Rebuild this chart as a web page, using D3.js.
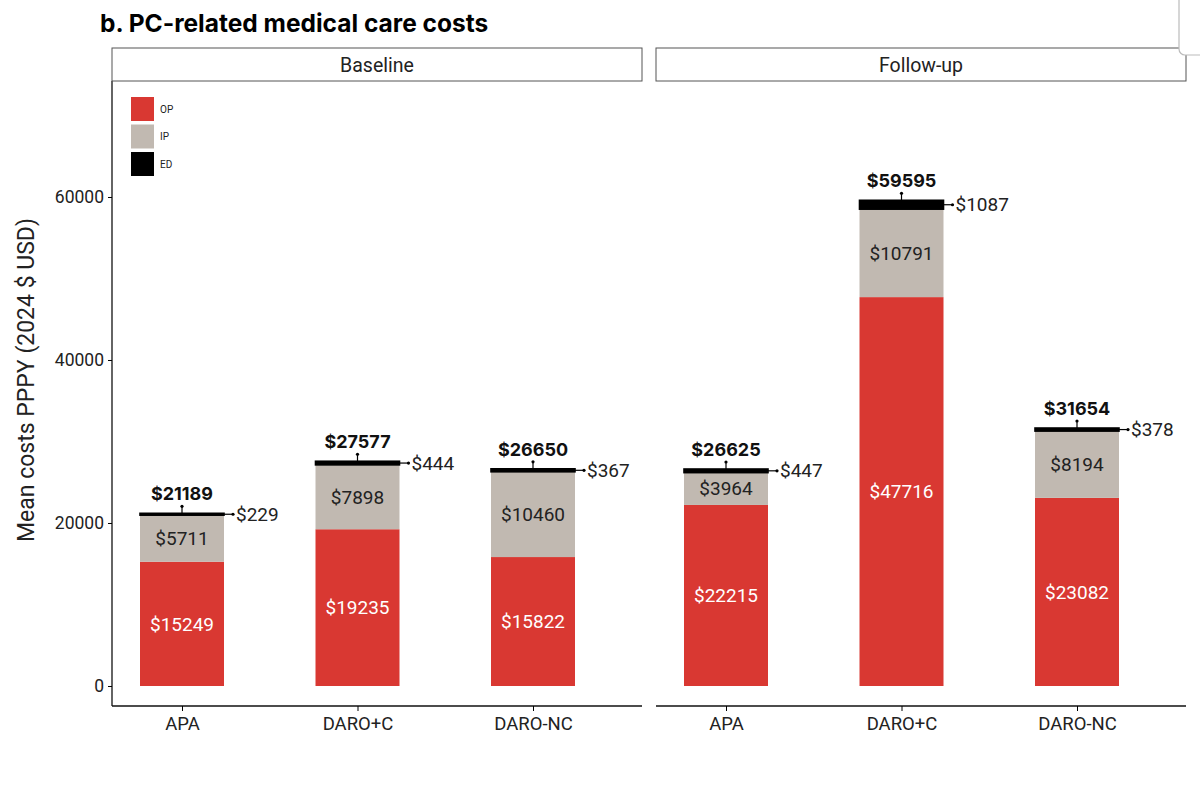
<!DOCTYPE html>
<meta charset="utf-8">
<script src="https://d3js.org/d3.v7.min.js"></script>
<style>
  body { margin: 0; background: #fff; }
  text { font-family: Roboto, "Liberation Sans", sans-serif; }
</style>
<svg width="1200" height="787"></svg>
<script>
// data
var periods = ["Baseline", "Follow-up"];
var treatments = ["APA", "DARO+C", "DARO-NC"];
var components = ["OP", "IP", "ED"];
var opBase = [15249, 19235, 15822];
var ipBase = [5711, 7898, 10460];
var edBase = [229, 444, 367];
var totalBase = [21189, 27577, 26650];
var opFollow = [22215, 47716, 23082];
var ipFollow = [3964, 10791, 8194];
var edFollow = [447, 1087, 378];
var totalFollow = [26625, 59595, 31654];
var yTicks = [0, 20000, 40000, 60000];

var colors = {OP: "#d93832", IP: "#c1b9b1", ED: "#000000"};

var panels = [
  {name: periods[0], left: 112, op: opBase, ip: ipBase, ed: edBase, total: totalBase},
  {name: periods[1], left: 656, op: opFollow, ip: ipFollow, ed: edFollow, total: totalFollow}
];

var svg = d3.select("svg");
var plotTop = 81, plotBottom = 706, panelW = 530, barW = 84;

var y = d3.scaleLinear().domain([-2454, 74233]).range([plotBottom, plotTop]);

// title
svg.append("text")
    .attr("x", 100).attr("y", 32)
    .style("font-size", "24.5px").style("font-weight", "bold")
    .style("font-family", "Inter, Roboto, sans-serif")
    .text("b. PC-related medical care costs");

// y axis title
svg.append("text")
    .attr("transform", "translate(34," + 380 + ") rotate(-90)")
    .attr("text-anchor", "middle")
    .style("font-size", "23px").style("fill", "#222")
    .text("Mean costs PPPY (2024 $ USD)");

// y axis
var yAxis = svg.append("g")
    .attr("transform", "translate(112,0)")
    .call(d3.axisLeft(y).tickValues(yTicks).tickFormat(d3.format("d")).tickSize(4).tickPadding(4));
yAxis.select(".domain").attr("d", "M0," + plotTop + "V" + plotBottom).attr("stroke", "#111").attr("stroke-width", 1.3);
yAxis.selectAll("text").style("font-size", "17.5px").style("fill", "#222");

panels.forEach(function(p) {
  var g = svg.append("g");
  var x = d3.scalePoint().domain(treatments).range([p.left + 70, p.left + 421]);

  // strip
  g.append("rect")
      .attr("x", p.left).attr("y", 48).attr("width", panelW).attr("height", plotTop - 48)
      .attr("fill", "#fff").attr("stroke", "#555").attr("stroke-width", 1);
  g.append("text")
      .attr("x", p.left + panelW / 2).attr("y", 72)
      .attr("text-anchor", "middle")
      .style("font-size", "19.5px").style("fill", "#222")
      .text(p.name);

  // x axis
  var xAxis = g.append("g")
      .attr("transform", "translate(0," + plotBottom + ")")
      .call(d3.axisBottom(x).tickSize(5).tickPadding(6));
  xAxis.select(".domain").attr("d", "M" + p.left + ",0H" + (p.left + panelW)).attr("stroke", "#111").attr("stroke-width", 1.3);
  xAxis.selectAll("text").style("font-size", "18.5px").style("fill", "#222");

  treatments.forEach(function(t, i) {
    var cx = x(t);
    var segs = [
      {key: "OP", y0: 0, y1: p.op[i]},
      {key: "IP", y0: p.op[i], y1: p.op[i] + p.ip[i]},
      {key: "ED", y0: p.op[i] + p.ip[i], y1: p.total[i]}
    ];
    g.selectAll(null).data(segs).enter().append("rect")
        .attr("x", cx - barW / 2)
        .attr("y", function(d) { return y(d.y1); })
        .attr("width", barW)
        .attr("height", function(d) { return Math.max(0, y(d.y0) - y(d.y1)); })
        .attr("fill", function(d) { return colors[d.key]; })
        .attr("stroke", function(d) { return d.key == "ED" ? "#000" : "none"; })
        .attr("stroke-width", 1.6);

    // OP label
    g.append("text")
        .attr("x", cx).attr("y", y(p.op[i] / 2)).attr("dy", "0.35em")
        .attr("text-anchor", "middle")
        .style("font-size", "19px").style("fill", "#fff")
        .text("$" + p.op[i]);
    // IP label
    g.append("text")
        .attr("x", cx).attr("y", y(p.op[i] + p.ip[i] / 2)).attr("dy", "0.35em")
        .attr("text-anchor", "middle")
        .style("font-size", "19px").style("fill", "#222")
        .text("$" + p.ip[i]);

    // total marker + label
    var yt = y(p.total[i]);
    g.append("line")
        .attr("x1", cx).attr("x2", cx).attr("y1", yt).attr("y2", yt - 7)
        .attr("stroke", "#000").attr("stroke-width", 1.2);
    g.append("circle").attr("cx", cx).attr("cy", yt - 7).attr("r", 1.6).attr("fill", "#000");
    g.append("text")
        .attr("x", cx).attr("y", yt - 13)
        .attr("text-anchor", "middle")
        .style("font-size", "18px").style("font-weight", "bold").style("fill", "#111")
        .style("font-family", "Inter, Roboto, sans-serif")
        .text("$" + p.total[i]);

    // ED side label
    var ye = (y(p.total[i]) + y(p.op[i] + p.ip[i])) / 2;
    g.append("line")
        .attr("x1", cx + barW / 2).attr("x2", cx + barW / 2 + 9).attr("y1", ye).attr("y2", ye)
        .attr("stroke", "#000").attr("stroke-width", 1.2);
    g.append("circle").attr("cx", cx + barW / 2 + 9).attr("cy", ye).attr("r", 1.6).attr("fill", "#000");
    g.append("text")
        .attr("x", cx + barW / 2 + 12).attr("y", ye).attr("dy", "0.35em")
        .style("font-size", "19px").style("fill", "#222")
        .text("$" + p.ed[i]);
  });
});

// legend
var legend = svg.append("g").attr("transform", "translate(131,97)");
legend.selectAll("rect").data(components).enter().append("rect")
    .attr("x", 0).attr("y", function(d, i) { return i * 27.5; })
    .attr("width", 23).attr("height", 24)
    .attr("fill", function(d) { return colors[d]; });
legend.selectAll("text").data(components).enter().append("text")
    .attr("x", 29).attr("y", function(d, i) { return i * 27.5 + 12; })
    .attr("dy", "0.35em")
    .style("font-size", "10px").style("fill", "#222")
    .text(function(d) { return d; });

// overlay box in top-right corner
svg.append("rect")
    .attr("x", 1179).attr("y", -10).attr("width", 40).attr("height", 65).attr("rx", 6)
    .attr("fill", "#fff").attr("stroke", "#bbb").attr("stroke-width", 1.2);
</script>
